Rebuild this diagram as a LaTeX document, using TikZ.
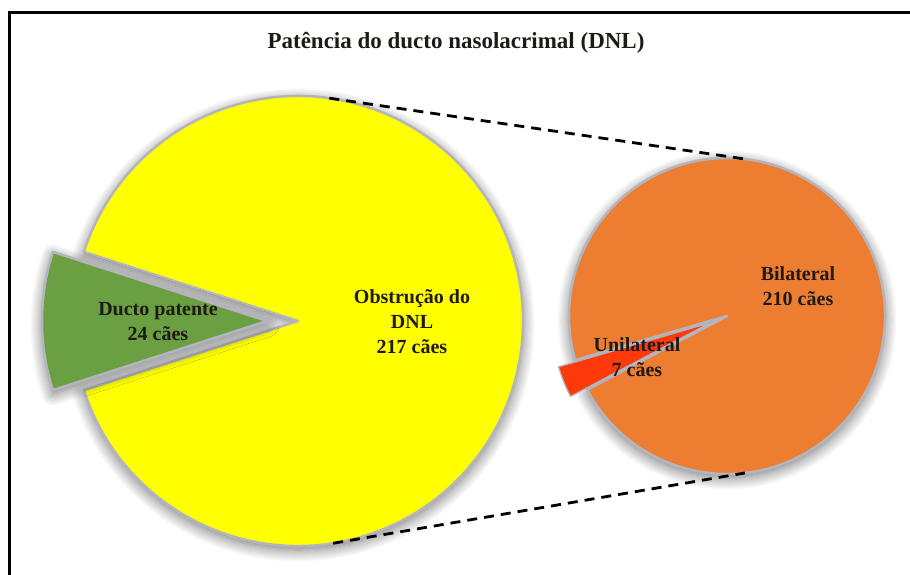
\documentclass[tikz,border=0pt]{standalone}
\usepackage{fontspec}
\setmainfont{Liberation Serif}
\usetikzlibrary{calc,shadows.blur}

\definecolor{pieyellow}{HTML}{FFFF00}
\definecolor{piegreen}{HTML}{6A9F42}
\definecolor{pieorange}{HTML}{ED7D31}
\definecolor{piered}{HTML}{FF3A0A}
\definecolor{slicegap}{HTML}{B4B4BE}
\definecolor{labeltext}{HTML}{1E1A16}

\begin{document}
\begin{tikzpicture}[x=1pt, y=1pt,
    slice/.style={draw=slicegap, line width=2.5pt, line join=round},
    softshadow/.style={blur shadow={shadow xshift=0pt, shadow yshift=-4pt,
        shadow blur radius=12pt, shadow blur steps=12, shadow opacity=55}},
    lbl/.style={text=labeltext, font=\fontsize{20}{25}\selectfont\bfseries, align=center},
    zoomline/.style={dashed, dash pattern=on 10pt off 7pt, line width=2.8pt}]
      \useasboundingbox (0,0) rectangle (910,575);
      % frame
      \draw[line width=3.5pt] (912,562.5) -- (9.5,562.5) -- (9.5,-2);
      \node[text=labeltext, font=\fontsize{23}{26}\selectfont\bfseries] (title) at (456,532) {Patência do ducto nasolacrimal (DNL)};
      % left pie
      \coordinate (Y) at (298,254);
      \fill[pieyellow, softshadow] (Y) -- ++(197.9:225) arc (197.9:522.1:225) -- cycle;
      \draw[slice, fill=pieyellow] (Y) -- ++(197.9:225) arc (197.9:522.1:225) -- cycle;
      \coordinate (G) at (267,254);
      \fill[piegreen, softshadow] (G) -- ++(162.1:225) arc (162.1:197.9:225) -- cycle;
      \draw[slice, fill=piegreen] (G) -- ++(162.1:225) arc (162.1:197.9:225) -- cycle;
      % right pie
      \coordinate (O) at (727,259);
      \fill[pieorange, softshadow] (O) -- ++(207.8:158) arc (207.8:556.2:158) -- cycle;
      \draw[slice, fill=pieorange] (O) -- ++(207.8:158) arc (207.8:556.2:158) -- cycle;
      \coordinate (R) at ($(O)+(202:18)$);
      \draw[slice, line width=1.2pt, fill=piered] (R) -- ++(196.2:158) arc (196.2:207.8:158) -- cycle;
      % zoom lines
      \coordinate (ytop) at ($(Y)+(82:225)$);
      \coordinate (ybot) at ($(Y)+(-81:225)$);
      \coordinate (otop) at ($(O)+(83.5:158)$);
      \coordinate (obot) at ($(O)+(-83.5:158)$);
      \draw[zoomline] (ytop) -- (otop);
      \draw[zoomline] (ybot) -- (obot);
      % labels
      \node[lbl] (patente) at (158,253) {Ducto patente\\24 cães};
      \node[lbl] (obstrucao) at (412,253) {Obstrução do\\DNL\\217 cães};
      \node[lbl] (bilateral) at (798,289) {Bilateral\\210 cães};
      \node[lbl] (unilateral) at (637,218) {Unilateral\\7 cães};
\end{tikzpicture}
\end{document}
